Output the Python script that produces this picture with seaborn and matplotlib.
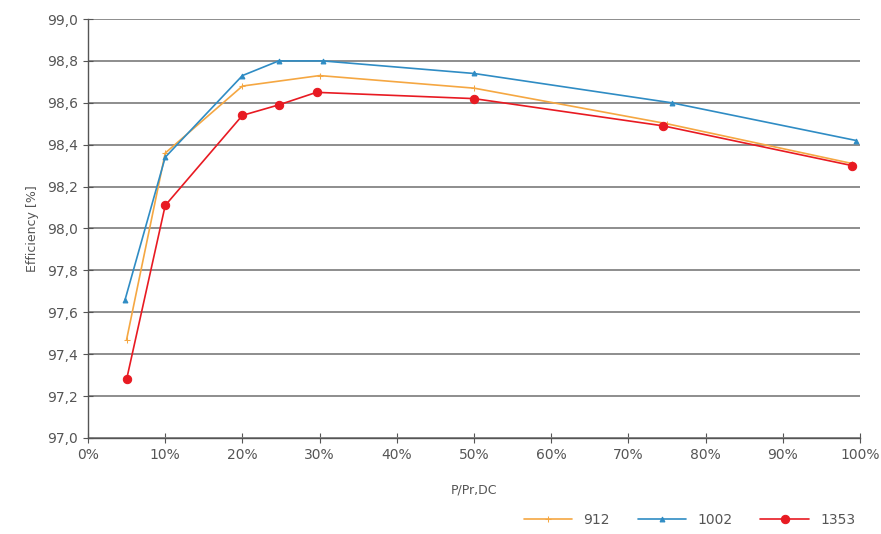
import pandas as pd
import numpy as np
import matplotlib
matplotlib.use('Agg')
import matplotlib.pyplot as plt
import seaborn as sns
from matplotlib.ticker import FuncFormatter

# values
load_912 = [5, 10, 20, 30, 50, 75, 99]
eff_912 = [97.47, 98.36, 98.68, 98.73, 98.67, 98.50, 98.31]

load_1002 = [4.8, 10, 20, 24.7, 30.4, 50, 75.6, 99.5]
eff_1002 = [97.66, 98.34, 98.73, 98.80, 98.80, 98.74, 98.60, 98.42]

load_1353 = [5, 10, 20, 24.7, 29.6, 50, 74.5, 99]
eff_1353 = [97.28, 98.11, 98.54, 98.59, 98.65, 98.62, 98.49, 98.30]

series = ['912', '1002', '1353']
colors = {'912': '#f5a742', '1002': '#2f8cc4', '1353': '#e81a22'}
markers = {'912': '+', '1002': '^', '1353': 'o'}
msizes = {'912': 5, '1002': 3.5, '1353': 6}

df = pd.concat([
    pd.DataFrame({'load': load_912, 'eff': eff_912, 'serie': '912'}),
    pd.DataFrame({'load': load_1002, 'eff': eff_1002, 'serie': '1002'}),
    pd.DataFrame({'load': load_1353, 'eff': eff_1353, 'serie': '1353'}),
])

sns.set_style('white')
plt.rcParams['font.family'] = ['DejaVu Sans']

fig = plt.figure(figsize=(8.81, 5.34), dpi=100)
ax = fig.add_axes([0.0999, 0.1798, 0.8763, 0.7846])

# grid first so lines sit on top
ax.set_axisbelow(True)
ax.yaxis.grid(True, color='#858585', linewidth=1.3)

for s in series:
    sub = df[df['serie'] == s]
    sns.lineplot(data=sub, x='load', y='eff', ax=ax, color=colors[s],
                 marker=markers[s], markersize=msizes[s], markeredgecolor=colors[s],
                 linewidth=1.2, label=s, sort=False, estimator=None)

ax.set_xlim(0, 100)
ax.set_ylim(97.0, 99.0)
ax.set_xticks(np.arange(0, 101, 10))
ax.set_yticks(np.arange(97.0, 99.01, 0.2))
ax.xaxis.set_major_formatter(FuncFormatter(lambda v, p: f'{v:.0f}%'))
ax.yaxis.set_major_formatter(FuncFormatter(lambda v, p: f'{v:.1f}'.replace('.', ',')))

for side in ['top', 'right']:
    ax.spines[side].set_visible(False)
for side in ['left', 'bottom']:
    ax.spines[side].set_color('#555555')
    ax.spines[side].set_linewidth(1.0)

ax.tick_params(axis='both', which='major', direction='inout', length=7, width=0.8,
               color='#555555', labelcolor='#555555', labelsize=10, left=True, bottom=True)

ax.set_xlabel('P/Pr,DC', color='#555555', fontsize=9, labelpad=16)
ax.set_ylabel('Efficiency [%]', color='#555555', fontsize=9, labelpad=6)

ax.legend(loc='upper right', bbox_to_anchor=(1.01, -0.15), ncol=3, frameon=False,
          fontsize=10, labelcolor='#555555', handlelength=3.5, columnspacing=2.0)

plt.savefig('out.png', dpi=100)
